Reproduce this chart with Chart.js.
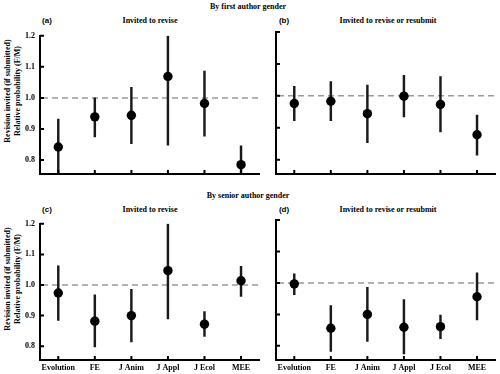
<!DOCTYPE html>
<html>
<head>
<meta charset="utf-8">
<script src="https://cdn.jsdelivr.net/npm/chart.js@4"></script>
<style>
body { margin: 0; background: #fff; }
#wrap { position: relative; width: 500px; height: 374px; overflow: hidden; font-family: "Liberation Serif", serif; font-weight: bold; font-size: 8px; color: #000; }
canvas { position: absolute; }
.t { position: absolute; white-space: nowrap; transform: translate(-50%, -50%); }
.p { font-family: "Liberation Sans", sans-serif; }
.ylab { position: absolute; white-space: nowrap; text-align: center; line-height: 10px; transform: translate(-50%, -50%) rotate(-90deg); }
</style>
</head>
<body>
<div id="wrap">
  <div class="t" style="left:248px;top:6px">By first author gender</div>
  <div class="t p" style="left:47px;top:20px">(a)</div>
  <div class="t" style="left:150px;top:20px">Invited to revise</div>
  <div class="t p" style="left:284px;top:20px">(b)</div>
  <div class="t" style="left:388px;top:20px">Invited to revise or resubmit</div>
  <div class="ylab" style="left:13px;top:91px">Revision invited (if submitted)<br>Relative probability (F/M)</div>

  <div class="t" style="left:248px;top:195px">By senior author gender</div>
  <div class="t p" style="left:47px;top:209px">(c)</div>
  <div class="t" style="left:150px;top:209px">Invited to revise</div>
  <div class="t p" style="left:284px;top:209px">(d)</div>
  <div class="t" style="left:388px;top:209px">Invited to revise or resubmit</div>
  <div class="ylab" style="left:13px;top:279px">Revision invited (if submitted)<br>Relative probability (F/M)</div>

  <canvas id="chartA" width="264" height="162" style="left:0;top:26px"></canvas>
  <canvas id="chartB" width="232" height="162" style="left:268px;top:26px"></canvas>
  <canvas id="chartC" width="264" height="160" style="left:0;top:214px"></canvas>
  <canvas id="chartD" width="232" height="160" style="left:268px;top:214px"></canvas>
</div>
<script>
const journals = ["Evolution", "FE", "J Anim", "J Appl", "J Ecol", "MEE"];
const yTicks = [0.8, 0.9, 1.0, 1.1, 1.2];

// (a) first author, invited to revise
const aMid = [0.842, 0.939, 0.944, 1.069, 0.982, 0.785];
const aLow = [0.75, 0.874, 0.853, 0.848, 0.877, 0.75];
const aHigh = [0.932, 1.0, 1.034, 1.2, 1.086, 0.846];

// (b) first author, invited to revise or resubmit
const bMid = [0.976, 0.983, 0.944, 0.999, 0.973, 0.878];
const bLow = [0.922, 0.922, 0.853, 0.934, 0.887, 0.814];
const bHigh = [1.030, 1.045, 1.034, 1.064, 1.060, 0.940];

// (c) senior author, invited to revise
const cMid = [0.974, 0.882, 0.900, 1.047, 0.872, 1.014];
const cLow = [0.884, 0.798, 0.814, 0.889, 0.832, 0.963];
const cHigh = [1.063, 0.968, 0.986, 1.2, 0.913, 1.061];

// (d) senior author, invited to revise or resubmit
const dMid = [0.997, 0.856, 0.900, 0.859, 0.861, 0.956];
const dLow = [0.963, 0.782, 0.814, 0.774, 0.823, 0.882];
const dHigh = [1.029, 0.928, 0.986, 0.947, 0.898, 1.032];

Chart.defaults.font.family = "'Liberation Serif', serif";
Chart.defaults.font.weight = "bold";
Chart.defaults.font.size = 8;
Chart.defaults.color = "#000";

// dashed line at 1.0
const refLine = {
    id: "refLine",
    beforeDatasetsDraw(chart) {
        const { ctx, chartArea, scales } = chart;
        const y = scales.y.getPixelForValue(1);
        ctx.save();
        ctx.strokeStyle = "#9a9a9a";
        ctx.lineWidth = 1.5;
        ctx.setLineDash([6, 4]);
        ctx.beginPath();
        ctx.moveTo(chartArea.left + 2, y);
        ctx.lineTo(chartArea.right, y);
        ctx.stroke();
        ctx.restore();
    }
};

// small tick marks pointing into the plot
const innerTicks = {
    id: "innerTicks",
    afterDraw(chart) {
        const { ctx, chartArea, scales } = chart;
        ctx.save();
        ctx.strokeStyle = "#000";
        ctx.lineWidth = 2;
        ctx.beginPath();
        yTicks.forEach(v => {
            const y = scales.y.getPixelForValue(v);
            ctx.moveTo(chartArea.left, y);
            ctx.lineTo(chartArea.left + 4, y);
        });
        journals.forEach((j, i) => {
            const x = scales.x.getPixelForValue(i);
            ctx.moveTo(x, chartArea.bottom);
            ctx.lineTo(x, chartArea.bottom - 4);
        });
        ctx.stroke();
        ctx.restore();
    }
};

const makeChart = function (id, mid, low, high, showX, showY, topPad) {
    new Chart(document.getElementById(id), {
        type: "bar",
        data: {
            labels: journals,
            datasets: [
                {
                    type: "line",
                    data: mid,
                    showLine: false,
                    pointRadius: 4.7,
                    pointHoverRadius: 4.7,
                    pointBackgroundColor: "#000",
                    pointBorderColor: "#000",
                    pointBorderWidth: 0,
                    order: 0
                },
                {
                    data: low.map((l, i) => [l, high[i]]),
                    backgroundColor: "#1a1a1a",
                    borderWidth: 0,
                    barThickness: 1.8,
                    order: 1
                }
            ]
        },
        plugins: [refLine, innerTicks],
        options: {
            responsive: false,
            animation: false,
            devicePixelRatio: 1,
            layout: { padding: { top: topPad, right: showY ? 3 : 2, left: 0, bottom: 0 } },
            plugins: { legend: { display: false }, tooltip: { enabled: false } },
            scales: {
                x: {
                    grid: { display: true, drawOnChartArea: false, drawTicks: false },
                    border: { display: true, color: "#000", width: 2 },
                    ticks: { display: showX, padding: 3, maxRotation: 0, autoSkip: false },
                    afterFit: axis => { axis.height = 14; }
                },
                y: {
                    min: 0.755,
                    max: 1.2,
                    grid: { display: true, drawOnChartArea: false, drawTicks: false },
                    border: { display: true, color: "#000", width: 2 },
                    afterBuildTicks: axis => { axis.ticks = yTicks.map(v => ({ value: v })); },
                    ticks: { display: showY, padding: 5, callback: v => v.toFixed(1) },
                    afterFit: axis => { axis.width = showY ? 40 : 8; }
                }
            }
        }
    });
};

makeChart("chartA", aMid, aLow, aHigh, false, true, 6);
makeChart("chartB", bMid, bLow, bHigh, false, false, 6);
makeChart("chartC", cMid, cLow, cHigh, true, true, 6);
makeChart("chartD", dMid, dLow, dHigh, true, false, 6);
</script>
</body>
</html>
